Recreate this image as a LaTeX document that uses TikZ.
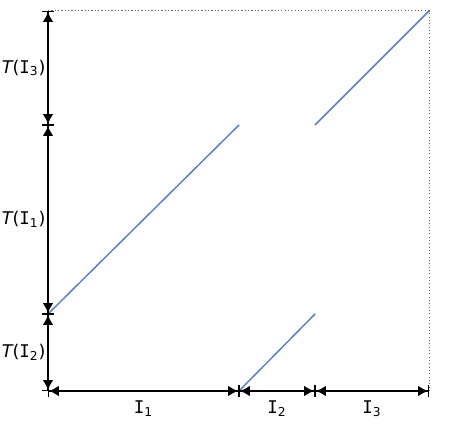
\documentclass[tikz,border=0pt]{standalone}
\usepackage{fontspec}
\setmainfont{DejaVu Sans}
\newfontfamily\monoI{DejaVu Sans Mono}
\usetikzlibrary{arrows.meta}

\newcommand{\Iv}[1]{{\monoI I}$_{\mathrm{#1}}$}

\tikzstyle{axisArrow} = [draw=black, line width=1.2pt,
    {Bar[width=7pt,line width=0.5pt]Latex[length=6pt,width=6.5pt]}-{Latex[length=6pt,width=6.5pt]Bar[width=7pt,line width=0.5pt]}]
\tikzstyle{guideLine} = [draw=black!60, dash pattern=on 0.7pt off 1.3pt, line width=0.6pt]
\tikzstyle{mapLine} = [draw={rgb,255:red,94;green,128;blue,196}, line width=0.9pt]
\tikzstyle{axisLabel} = [font=\fontsize{10.5}{12}\selectfont, inner sep=0.5pt]

\begin{document}
\begin{tikzpicture}[x=0.6pt, y=0.6pt]

\useasboundingbox (0,0) rectangle (474,424);

\coordinate (O) at (48,33);
\coordinate (X1) at (239,33);
\coordinate (X2) at (315,33);
\coordinate (X3) at (429,33);
\coordinate (Y2) at (48,110);
\coordinate (Y1) at (48,299);
\coordinate (Y3) at (48,413);
\coordinate (Top) at (429,413);
\coordinate (M1) at (239,299);
\coordinate (M2) at (315,110);
\coordinate (M3) at (315,299);

\draw[guideLine] (Y3) -- (Top) -- (X3);

\draw[mapLine] (Y2) -- (M1);
\draw[mapLine] (X1) -- (M2);
\draw[mapLine] (M3) -- (Top);

\draw[axisArrow] (O) -- node[axisLabel, below=5pt] (LabI1) {\Iv{1}} (X1);
\draw[axisArrow] (X1) -- node[axisLabel, below=5pt] (LabI2) {\Iv{2}} (X2);
\draw[axisArrow] (X2) -- node[axisLabel, below=5pt] (LabI3) {\Iv{3}} (X3);

\draw[axisArrow] (O) -- node[axisLabel, left=0.5pt] (LabT2) {$\mathit{T}$(\Iv{2})} (Y2);
\draw[axisArrow] (Y2) -- node[axisLabel, left=0.5pt] (LabT1) {$\mathit{T}$(\Iv{1})} (Y1);
\draw[axisArrow] (Y1) -- node[axisLabel, left=0.5pt] (LabT3) {$\mathit{T}$(\Iv{3})} (Y3);
\end{tikzpicture}
\end{document}
